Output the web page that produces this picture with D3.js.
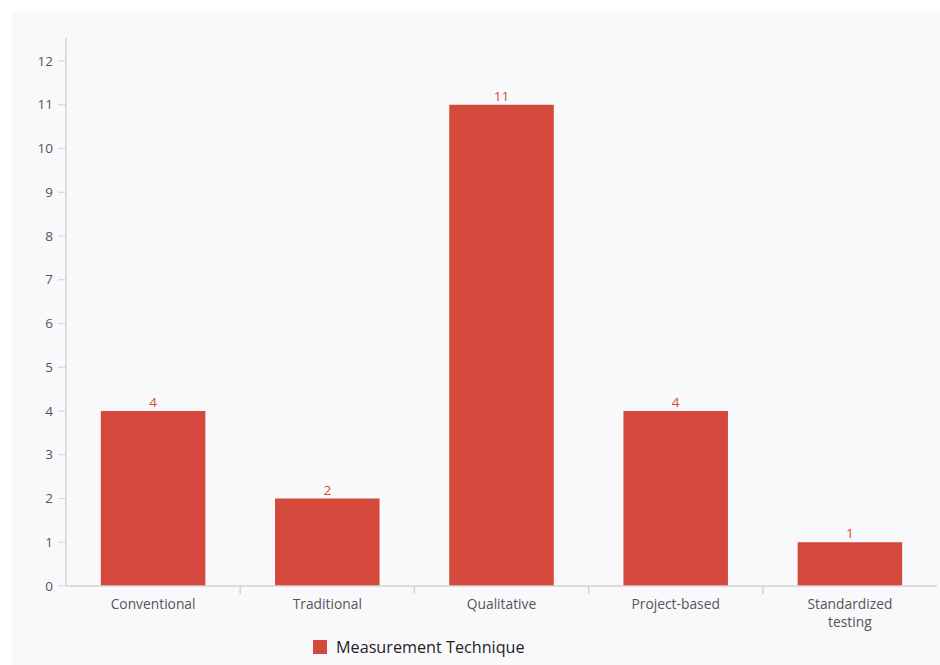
<!DOCTYPE html>
<html>
<head>
<meta charset="utf-8">
<script src="https://cdn.jsdelivr.net/npm/d3@7/dist/d3.min.js"></script>
<style>
  html, body { margin: 0; padding: 0; background: #ffffff; }
  svg { display: block; }
  text { font-family: "Open Sans", "Noto Sans", sans-serif; }
</style>
</head>
<body>
<svg id="chart" width="940" height="665"></svg>
<script>
// Survey counts per measurement technique
const categories = ["Conventional", "Traditional", "Qualitative", "Project-based", "Standardized testing"];
const values = [4, 2, 11, 4, 1];
const yTicks = [0, 1, 2, 3, 4, 5, 6, 7, 8, 9, 10, 11, 12];
const seriesName = "Measurement Technique";

const barColor = "#d5493d";
const svg = d3.select("#chart");

// panel background
svg.append("rect")
  .attr("x", 12).attr("y", 12)
  .attr("width", 928).attr("height", 653)
  .attr("fill", "#f9f9fb");

const plotLeft = 66, plotRight = 937, plotTop = 38, plotBottom = 586;

const x = d3.scaleBand()
  .domain(categories)
  .range([plotLeft, plotRight])
  .paddingInner(0.4)
  .paddingOuter(0.2);

const y = d3.scaleLinear()
  .domain([0, 12])
  .range([plotBottom, 61]);

const axisColor = "#d3d3d6";
const labelColor = "#555559";

// y axis line
svg.append("line")
  .attr("x1", plotLeft).attr("x2", plotLeft)
  .attr("y1", plotTop).attr("y2", plotBottom)
  .attr("stroke", axisColor).attr("stroke-width", 1.5);

// y ticks and labels
const yAxis = svg.append("g");
yTicks.forEach(t => {
  yAxis.append("line")
    .attr("x1", plotLeft - 8).attr("x2", plotLeft)
    .attr("y1", y(t)).attr("y2", y(t))
    .attr("stroke", axisColor).attr("stroke-width", 1);
  yAxis.append("text")
    .attr("x", plotLeft - 13).attr("y", y(t))
    .attr("dy", "0.35em")
    .attr("text-anchor", "end")
    .attr("font-size", 13.5)
    .attr("fill", labelColor)
    .text(t);
});

// bars
svg.append("g").selectAll("rect")
  .data(categories)
  .join("rect")
  .attr("x", d => x(d))
  .attr("y", (d, i) => y(values[i]))
  .attr("width", x.bandwidth())
  .attr("height", (d, i) => y(0) - y(values[i]))
  .attr("fill", barColor);

// value labels
svg.append("g").selectAll("text")
  .data(categories)
  .join("text")
  .attr("x", d => x(d) + x.bandwidth() / 2)
  .attr("y", (d, i) => y(values[i]) - 4)
  .attr("text-anchor", "middle")
  .attr("font-size", 13.5)
  .attr("fill", barColor)
  .text((d, i) => values[i]);

// x axis line
svg.append("line")
  .attr("x1", plotLeft).attr("x2", plotRight)
  .attr("y1", plotBottom).attr("y2", plotBottom)
  .attr("stroke", axisColor).attr("stroke-width", 1.5);

// separators between categories
const step = x.step();
categories.slice(1).forEach((c, i) => {
  const sx = plotLeft + step * (i + 1);
  svg.append("line")
    .attr("x1", sx).attr("x2", sx)
    .attr("y1", plotBottom).attr("y2", plotBottom + 8)
    .attr("stroke", axisColor).attr("stroke-width", 1.5);
});

// category labels, long names wrapped one word per line
const xLabels = svg.append("g");
categories.forEach(c => {
  const cx = x(c) + x.bandwidth() / 2;
  const lines = c.length > 16 ? c.split(" ") : [c];
  lines.forEach((ln, k) => {
    xLabels.append("text")
      .attr("x", cx)
      .attr("y", 609 + k * 17.5)
      .attr("text-anchor", "middle")
      .attr("font-size", 13.8)
      .attr("fill", labelColor)
      .text(ln);
  });
});

// legend
const legend = svg.append("g");
legend.append("rect")
  .attr("x", 313).attr("y", 640)
  .attr("width", 14).attr("height", 14)
  .attr("fill", barColor);
legend.append("text")
  .attr("x", 336).attr("y", 647)
  .attr("dy", "0.35em")
  .attr("font-size", 16.2)
  .attr("fill", "#222226")
  .text(seriesName);
</script>
</body>
</html>
